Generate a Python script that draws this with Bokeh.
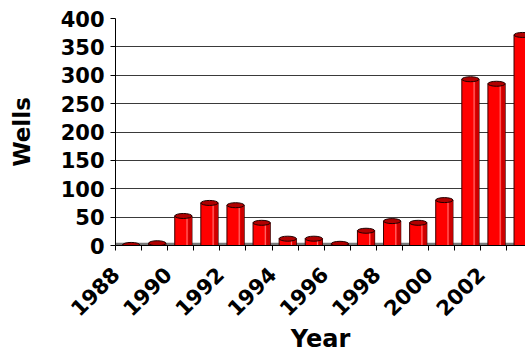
import math

from bokeh.embed import file_html
from bokeh.models import BoxAnnotation, ColumnDataSource, FixedTicker, Range1d
from bokeh.plotting import figure
from bokeh.resources import INLINE

# Wells drilled per year
years = [1988, 1989, 1990, 1991, 1992, 1993, 1994, 1995,
         1996, 1997, 1998, 1999, 2000, 2001, 2002, 2003]
wells = [1, 4, 52, 75, 71, 40, 12, 12, 3, 26, 43, 40, 80, 293, 285, 371]

# every other year is labelled along the x axis
labelled_years = [1988, 1990, 1992, 1994, 1996, 1998, 2000, 2002]
y_ticks = [0, 50, 100, 150, 200, 250, 300, 350, 400]

FONT = "DejaVu Sans"
BAR_SHIFT = 0.1      # bars sit slightly right of the category centre (3-D look)
BAR_W = 0.66

p = figure(
    width=525, height=356,
    x_range=Range1d(1987.5, 2003.21),
    y_range=Range1d(0, 400),
    output_backend="svg", toolbar_location=None,
    min_border_left=115, min_border_right=0,
    min_border_top=18, min_border_bottom=111,
)
p.outline_line_color = None
p.background_fill_color = "white"

# floor strip under the bars
p.add_layout(BoxAnnotation(bottom=0, top=5, fill_color="#7a7a7a",
                           fill_alpha=1.0, line_color=None, level="underlay"))

src = ColumnDataSource(dict(
    x=[y + BAR_SHIFT for y in years],
    hl=[y + BAR_SHIFT + 0.14 for y in years],
    dk=[y + BAR_SHIFT + 0.255 for y in years],
    top=wells,
))

# cylinder body
p.vbar(x="x", top="top", bottom=0, width=BAR_W, source=src,
       fill_color="#ff0000", line_color="#3a0000", line_width=1)
# shaded right side and highlight stripe
p.vbar(x="dk", top="top", bottom=0, width=0.13, source=src,
       fill_color="#cc0000", line_color=None)
p.vbar(x="hl", top="top", bottom=0, width=0.045, source=src,
       fill_color="#ff8080", fill_alpha=0.85, line_color=None)
# cylinder caps
p.ellipse(x="x", y="top", width=BAR_W, height=5, height_units="screen",
          source=src, fill_color="#b00000", line_color="#200000", line_width=1)

# y axis
p.yaxis.ticker = FixedTicker(ticks=y_ticks)
p.yaxis.axis_label = "Wells"
p.yaxis.axis_label_text_font = FONT
p.yaxis.axis_label_text_font_style = "bold"
p.yaxis.axis_label_text_font_size = "23px"
p.yaxis.axis_label_text_color = "black"
p.yaxis.axis_label_standoff = 23
p.yaxis.major_label_text_font = FONT
p.yaxis.major_label_text_font_style = "bold"
p.yaxis.major_label_text_font_size = "21px"
p.yaxis.major_label_text_color = "black"
p.yaxis.major_label_standoff = 6
p.yaxis.major_tick_out = 5
p.yaxis.major_tick_in = 0
p.yaxis.minor_tick_line_color = None
p.yaxis.axis_line_color = "black"
p.yaxis.major_tick_line_color = "black"

# x axis: tick marks on category boundaries, labels on even years
boundaries = [y - 0.5 for y in years]
p.xaxis.ticker = FixedTicker(ticks=boundaries)
p.xaxis.major_label_overrides = {
    y - 0.5: (str(y) if y in labelled_years else "") for y in years
}
p.xaxis.major_label_orientation = math.pi / 4
p.xaxis.major_label_standoff = 20
p.xaxis.axis_label = "Year"
p.xaxis.axis_label_text_font = FONT
p.xaxis.axis_label_text_font_style = "bold"
p.xaxis.axis_label_text_font_size = "24px"
p.xaxis.axis_label_text_color = "black"
p.xaxis.axis_label_standoff = -1
p.xaxis.major_label_text_font = FONT
p.xaxis.major_label_text_font_style = "bold"
p.xaxis.major_label_text_font_size = "21px"
p.xaxis.major_label_text_color = "black"
p.xaxis.major_tick_out = 5
p.xaxis.major_tick_in = 0
p.xaxis.minor_tick_line_color = None
p.xaxis.axis_line_color = "black"
p.xaxis.major_tick_line_color = "black"

p.xgrid.grid_line_color = None
p.ygrid.grid_line_color = "#3a3a3a"
p.ygrid.grid_line_width = 1

open("out.html", "w").write(file_html(p, INLINE))
